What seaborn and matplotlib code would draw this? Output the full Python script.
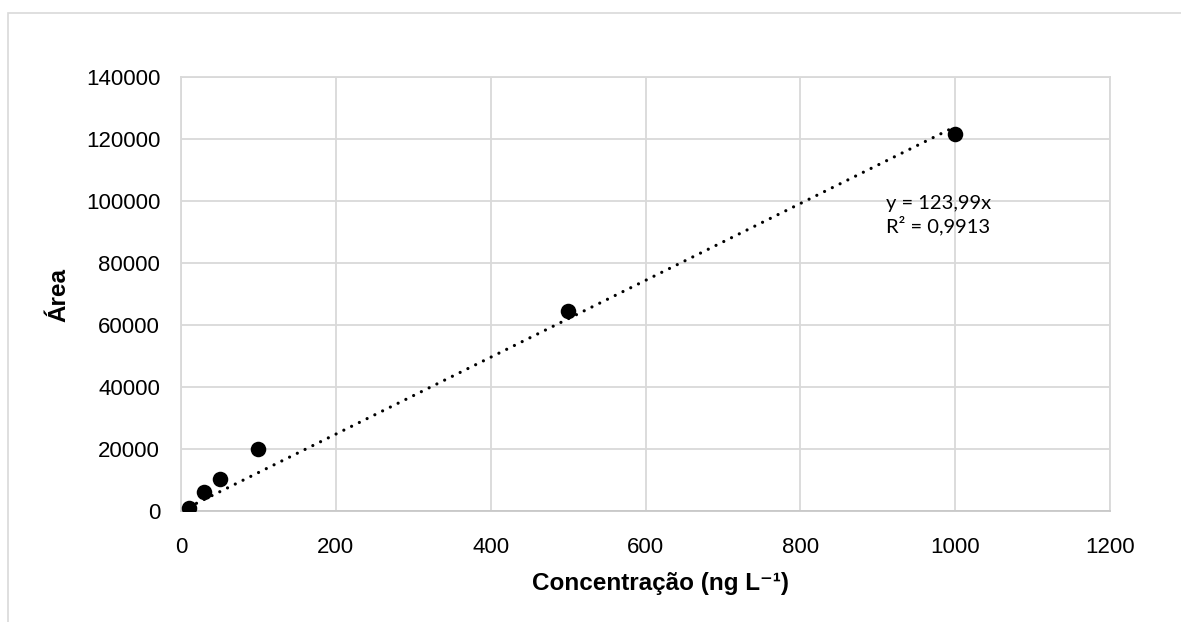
import numpy as np
import pandas as pd
import matplotlib
matplotlib.use("Agg")
import matplotlib.pyplot as plt
import seaborn as sns

# Data
concentracao = [10, 30, 50, 100, 500, 1000]
area = [1100, 6000, 10300, 20000, 64500, 121700]
x_ticks = [0, 200, 400, 600, 800, 1000, 1200]
y_ticks = [0, 20000, 40000, 60000, 80000, 100000, 120000, 140000]
eq_text = "y = 123,99x\nR² = 0,9913"

sns.set_theme(style="white")
plt.rcParams['font.family'] = ['Liberation Sans', 'DejaVu Sans']
plt.rcParams['text.color'] = 'black'
plt.rcParams['axes.labelcolor'] = 'black'

df = pd.DataFrame({"x": concentracao, "y": area})

W, H = 1181, 622
fig = plt.figure(figsize=(W / 100, H / 100), dpi=100)
fig.patch.set_facecolor("white")

# outer chart border (cropped at right/bottom)
fig.add_artist(plt.Rectangle((8 / W, -0.05), 1.2, (H - 13) / H + 0.05,
                             transform=fig.transFigure, fill=False,
                             edgecolor="#d9d9d9", linewidth=1.2))

left, right, top, bottom = 181, 1110, 77, 511
ax = fig.add_axes([left / W, (H - bottom) / H, (right - left) / W, (bottom - top) / H])

# trendline through origin
xs = np.array(concentracao, dtype=float)
ys = np.array(area, dtype=float)
slope = (xs * ys).sum() / (xs * xs).sum()
line_x = np.array([min(concentracao), max(concentracao)], dtype=float)
ax.plot(line_x, slope * line_x, color="black", linestyle=(0, (0.01, 2.7)),
        linewidth=2.3, dash_capstyle="round", zorder=2)

sns.scatterplot(data=df, x="x", y="y", ax=ax, color="black", s=125,
                edgecolor="black", linewidth=0, zorder=3)

ax.set_xlim(0, 1200)
ax.set_ylim(0, 140000)
ax.set_xticks(x_ticks)
ax.set_yticks(y_ticks)
ax.set_xticklabels([str(t) for t in x_ticks], fontsize=16)
ax.set_yticklabels([str(t) for t in y_ticks], fontsize=16)
ax.tick_params(axis="y", length=0, pad=15, colors="#000000")
ax.tick_params(axis="x", length=0, pad=19, colors="#000000")
ax.grid(True, color="#d9d9d9", linewidth=1.3)
ax.set_axisbelow(True)
for s in ax.spines.values():
    s.set_color("#d9d9d9")
    s.set_linewidth(1.3)
ax.spines["bottom"].set_color("#c8c8c8")

ax.set_xlabel("Concentração (ng L⁻¹)", fontsize=17.5, fontweight="bold", color="black")
ax.set_ylabel("Área", fontsize=17.5, fontweight="bold", color="black")
ax.xaxis.set_label_coords(0.516, -0.14)
ax.yaxis.set_label_coords(-0.119, 0.497)

ax.text(978, 95500, eq_text, fontsize=14.5, family=["Lato", "DejaVu Sans"],
        ha="center", va="center", linespacing=1.2, color="#000000")

fig.savefig("out.png", dpi=100, facecolor="white")
